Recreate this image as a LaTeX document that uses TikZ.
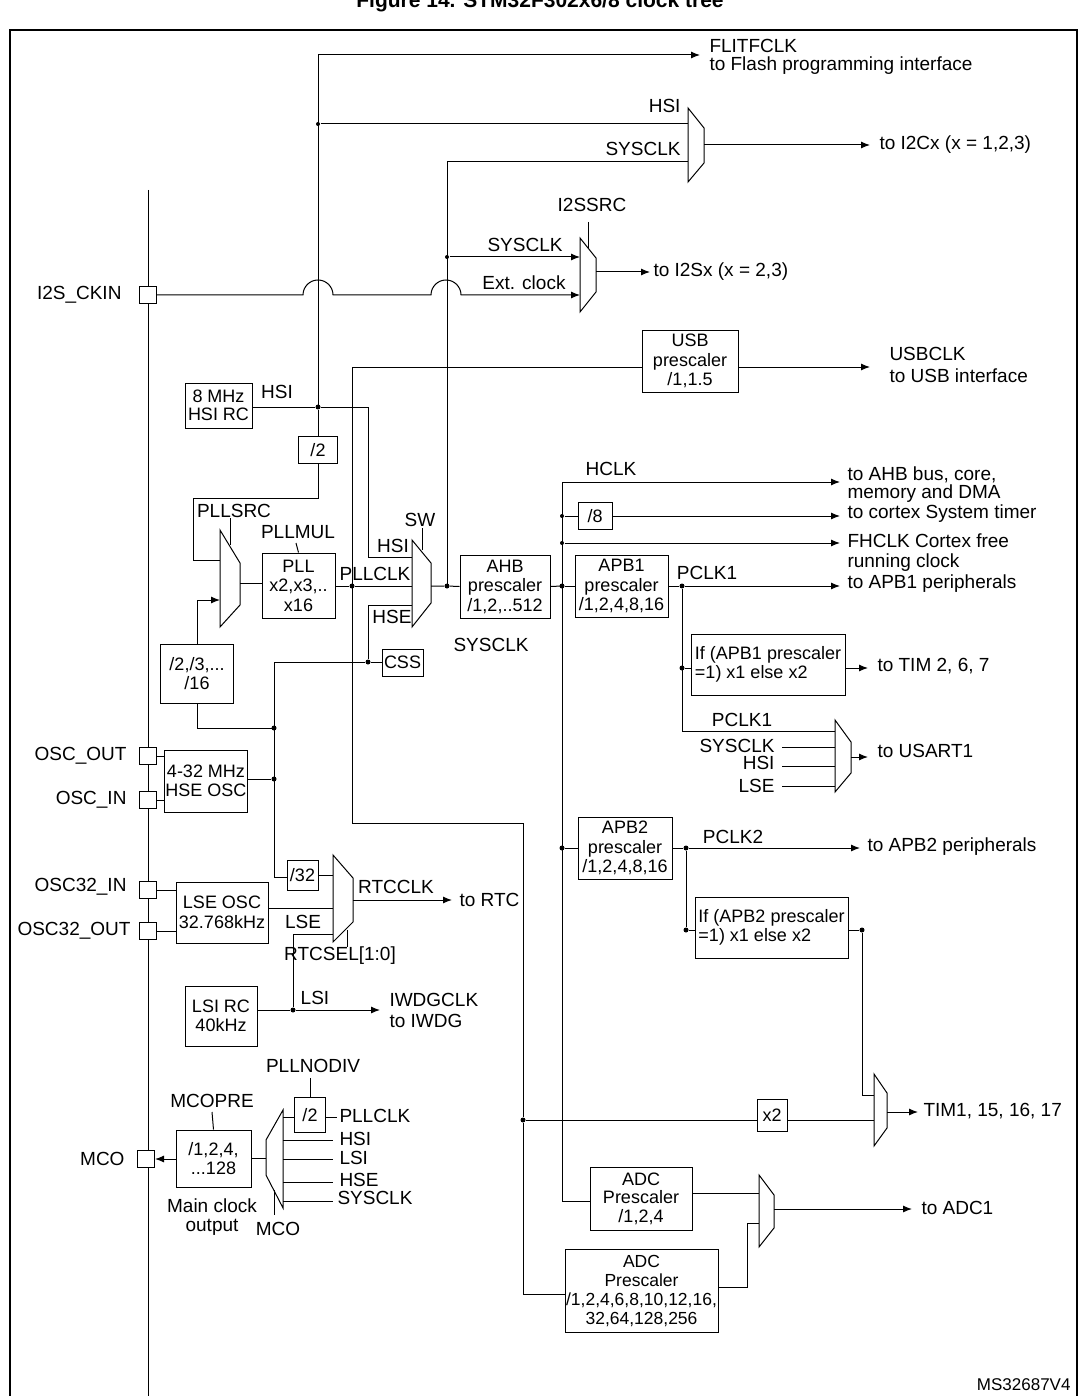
\documentclass[tikz,border=0pt]{standalone}
\usepackage{fontspec}
\setmainfont{Liberation Sans}
\usetikzlibrary{arrows.meta}
\begin{document}
\begin{tikzpicture}[x=1pt,y=-1pt,line width=1pt,
  box/.style={draw,align=center,inner sep=1pt,font=\fontsize{18}{19.5}\selectfont},
  pin/.style={draw,fill=white,minimum size=17pt,inner sep=0pt},
  lbl/.style={inner sep=1pt,font=\fontsize{19}{19.5}\selectfont,align=left},
  arr/.style={-{Latex[length=9pt,width=7pt]}},
  dot/.style={circle,fill,inner sep=0pt,minimum size=5pt}]
\useasboundingbox (0,0) rectangle (1079,1396);
\node[font=\bfseries\fontsize{21}{21}\selectfont,anchor=base] (title) at (540,8) {Figure 14. STM32F302x6/8 clock tree};
\draw[line width=2.2pt] (10,1396) -- (10,30) -- (1077,30) -- (1077,1396);
% pin bus
\draw (148,190) -- (148,1396);
\node[pin] (pi2s) at (148,295) {};
\node[pin] (poscout) at (148,756) {};
\node[pin] (poscin) at (148,800) {};
\node[pin] (p32in) at (148,890) {};
\node[pin] (p32out) at (148,931) {};
\node[pin] (pmco) at (146,1159) {};
\node[lbl,anchor=east] at (123,295) {I2S\_CKIN};
\node[lbl,anchor=east] at (128,756) {OSC\_OUT};
\node[lbl,anchor=east] at (128,800) {OSC\_IN};
\node[lbl,anchor=east] at (128,887) {OSC32\_IN};
\node[lbl,anchor=east] at (132,931) {OSC32\_OUT};
\node[lbl,anchor=east] at (126,1159) {MCO};
% top: FLITFCLK, HSI, I2C
\coordinate (ftop) at (318,55);
\coordinate (fend) at (700,55);
\draw[arr] (318,407) -- (ftop) -- (fend);
\node[lbl,anchor=west] at (708,46) {FLITFCLK};
\node[lbl,anchor=west] at (708,66) {to Flash programming interface};
\node[dot,minimum size=4pt] (dhsi1) at (318,124) {};
\draw (dhsi1) -- (688,124);
\node[lbl,anchor=east] at (682,106) {HSI};
\draw (688,108) -- (704,128) -- (704,163) -- (688,182) -- cycle;
\draw[arr] (704,145) -- (870,145);
\node[lbl,anchor=west] at (878,145) {to I2Cx (x = 1,2,3)};
\draw (447,586) -- (447,162) -- (688,162);
\node[lbl,anchor=east] at (682,149) {SYSCLK};
% I2S
\draw (580,238) -- (596,258) -- (596,292) -- (580,312) -- cycle;
\draw (588,222) -- (588,248);
\node[lbl] at (592,205) {I2SSRC};
\node[dot,minimum size=4pt] (di2s) at (447,257) {};
\draw[arr] (di2s) -- (580,257);
\node[lbl] at (525,245) {SYSCLK};
\draw[arr] (pi2s.east) -- (303,295) arc(180:360:15) -- (431,295) arc(180:360:15) -- (580,295);
\node[lbl] at (524,283) {Ext. clock};
\draw[arr] (596,272) -- (650,272);
\node[lbl,anchor=west] at (652,272) {to I2Sx (x = 2,3)};
% USB
\node[box,minimum width=96pt,minimum height=62pt] (usb) at (690,361) {USB\\prescaler\\/1,1.5};
\draw (352,823) -- (352,367) -- (usb.west|-0,367);
\draw[arr] (usb.east|-0,367) -- (870,367);
\node[lbl,anchor=west] at (888,354) {USBCLK};
\node[lbl,anchor=west] at (888,376) {to USB interface};
% HSI RC
\node[box,minimum width=67pt,minimum height=45pt,font=\fontsize{18}{18}\selectfont] (hsirc) at (218.5,405.5) {8 MHz\\HSI RC};
\node[lbl] at (277,392) {HSI};
\node[dot] (dhsi) at (318,407) {};
\draw (hsirc.east|-0,407) -- (dhsi) -- (368,407) -- (368,557) -- (412,557);
\node[lbl] at (393,546) {HSI};
\node[box,minimum width=39pt,minimum height=27pt] (d2) at (318,450) {/2};
\draw (dhsi) -- (d2.north);
\draw (d2.south) -- (318,498) -- (193,498) -- (193,560) -- (220,560);
% PLLSRC mux
\draw (220,530) -- (240,563) -- (240,605) -- (220,627) -- cycle;
\draw (230,518) -- (230,545);
\node[lbl] at (234,511) {PLLSRC};
\node[box,minimum width=73pt,minimum height=59pt] (div16) at (197,673.5) {/2,/3,...\\/16};
\draw[arr] (div16.north) -- (197,600) -- (220,600);
\draw (div16.south) -- (197,728) -- (274,728);
% PLL
\node[box,minimum width=73pt,minimum height=65pt] (pll) at (298.5,585.5) {PLL\\x2,x3,..\\x16};
\draw (240,583) -- (pll.west|-0,583);
\draw (296,543) -- (pll.north);
\node[lbl] at (298,532) {PLLMUL};
\node[dot] (dpll) at (352,586) {};
\draw (pll.east|-0,586) -- (dpll) -- (412,586);
\node[lbl] at (375,574) {PLLCLK};
% SW mux
\draw (412,540) -- (431,563) -- (431,603) -- (412,627) -- cycle;
\draw (422,528) -- (422,550);
\node[lbl] at (420,520) {SW};
\node[lbl] at (392,617) {HSE};
\node[box,minimum width=41pt,minimum height=27pt] (css) at (402.5,662.5) {CSS};
\node[dot] (dcss) at (368,662) {};
\draw (274,877) -- (274,662) -- (dcss) -- (css.west|-0,662);
\draw (dcss) -- (368,605) -- (412,605);
\node[dot] (dsys) at (447,586) {};
\node[box,minimum width=90pt,minimum height=63pt] (ahb) at (505,586.5) {AHB\\prescaler\\/1,2,..512};
\draw (431,586) -- (dsys) -- (ahb.west);
\node[lbl] at (491,645) {SYSCLK};
% HSE OSC
\node[box,minimum width=60pt,minimum height=62pt] (hse) at (206,781) {4-32 MHz\\HSE OSC};
\draw (poscout.east) -- (hse.west|-0,756);
\draw (poscin.east) -- (hse.west|-0,800);
\node[dot] (dhse) at (274,779) {};
\node[dot] (dhse2) at (274,728) {};
\draw (hse.east|-0,779) -- (dhse);
% RTC
\node[box,minimum width=31pt,minimum height=30pt] (d32) at (302.5,875) {/32};
\draw (274,877) -- (d32.west|-0,877);
\draw (d32.east|-0,875) -- (333,875);
\draw (333,855) -- (353,878) -- (353,922) -- (333,942) -- cycle;
\draw[arr] (353,900) -- (452,900);
\node[lbl] at (396,887) {RTCCLK};
\node[lbl,anchor=west] at (458,900) {to RTC};
\node[box,minimum width=92pt,minimum height=61pt] (lse) at (222,912.5) {LSE OSC\\32.768kHz};
\draw (p32in.east) -- (lse.west|-0,890);
\draw (p32out.east) -- (lse.west|-0,931);
\draw (lse.east|-0,908) -- (333,908);
\node[lbl] at (303,922) {LSE};
\draw (347,930) -- (347,947);
\node[lbl] at (340,956) {RTCSEL[1:0]};
% LSI
\node[box,minimum width=72pt,minimum height=60pt] (lsi) at (221,1016) {LSI RC\\40kHz};
\node[dot] (dlsi) at (293,1010) {};
\draw[arr] (lsi.east|-0,1010) -- (dlsi) -- (380,1010);
\draw (dlsi) -- (293,934) -- (333,934);
\node[lbl] at (315,998) {LSI};
\node[lbl,anchor=west] at (388,1000) {IWDGCLK};
\node[lbl,anchor=west] at (388,1021) {to IWDG};
% MCO
\node[box,minimum width=75pt,minimum height=57pt] (mcopre) at (213.5,1158.5) {/1,2,4,\\...128};
\draw[arr] (mcopre.west|-0,1159) -- (pmco.east);
\draw (212,1112) -- (mcopre.north);
\node[lbl] at (212,1101) {MCOPRE};
\node[lbl,align=center] at (212,1217) {Main clock\\output};
\draw (283,1110) -- (266,1140) -- (266,1175) -- (283,1208) -- cycle;
\draw (266,1158) -- (mcopre.east|-0,1158);
\draw (274,1190) -- (274,1215);
\node[lbl] at (278,1229) {MCO};
\node[box,minimum width=31pt,minimum height=35pt] (dd2) at (310,1115) {/2};
\draw (283,1117) -- (dd2.west|-0,1117);
\draw (dd2.east|-0,1117) -- (337,1117);
\draw (310,1078) -- (dd2.north);
\node[lbl] at (313,1066) {PLLNODIV};
\node[lbl,anchor=west] at (338,1116) {PLLCLK};
\draw (283,1140) -- (333,1140); \node[lbl,anchor=west] at (338,1139) {HSI};
\draw (283,1159) -- (333,1159); \node[lbl,anchor=west] at (338,1158) {LSI};
\draw (283,1182) -- (333,1182); \node[lbl,anchor=west] at (338,1180) {HSE};
\draw (283,1201) -- (333,1201); \node[lbl,anchor=west] at (336,1198) {SYSCLK};
% AHB outputs
\draw (ahb.east) -- (562,586);
\draw (562,1201) -- (562,482);
\draw[arr] (562,482) -- (840,482);
\node[lbl] at (611,469) {HCLK};
\node[lbl,anchor=west] at (846,475) {to AHB bus, core,};
\node[lbl,anchor=west] at (846,494) {memory and DMA};
\node[dot,minimum size=4pt] (d8) at (562,516) {};
\node[box,minimum width=34pt,minimum height=27pt] (div8) at (595,516) {/8};
\draw (d8) -- (div8.west);
\draw[arr] (div8.east) -- (840,516);
\node[lbl,anchor=west] at (846,514) {to cortex System timer};
\node[dot,minimum size=4pt] (dfh) at (562,543) {};
\draw[arr] (dfh) -- (840,543);
\node[lbl,anchor=west] at (846,541) {FHCLK Cortex free};
\node[lbl,anchor=west] at (846,563) {running clock};
\node[dot] (dapb1) at (562,586) {};
\node[box,minimum width=93pt,minimum height=62pt] (apb1) at (621.5,586) {APB1\\prescaler\\/1,2,4,8,16};
\draw (dapb1) -- (apb1.west);
\node[dot] (dp1) at (682,586) {};
\draw[arr] (apb1.east) -- (dp1) -- (840,586);
\node[lbl] at (707,573) {PCLK1};
\node[lbl,anchor=west] at (846,584) {to APB1 peripherals};
\draw (dp1) -- (682,731) -- (835,731);
\node[box,minimum width=154pt,minimum height=61pt,align=left,inner sep=3pt] (tim1) at (768,664.5) {If (APB1 prescaler\\=1) x1 else x2};
\node[dot] (dt1) at (682,668) {};
\draw (dt1) -- (tim1.west|-0,668);
\draw[arr] (tim1.east|-0,668) -- (868,668);
\node[lbl,anchor=west] at (876,666) {to TIM 2, 6, 7};
\node[lbl] at (742,720) {PCLK1};
\draw (835,720) -- (851,742) -- (851,773) -- (835,792) -- cycle;
\draw[arr] (851,757) -- (868,757);
\node[lbl,anchor=west] at (876,751) {to USART1};
\draw (782,747) -- (835,747); \node[lbl,anchor=east] at (776,746) {SYSCLK};
\draw (782,766) -- (835,766); \node[lbl,anchor=east] at (776,763) {HSI};
\draw (782,786) -- (835,786); \node[lbl,anchor=east] at (776,786) {LSE};
% APB2
\node[dot] (dapb2) at (562,848) {};
\node[box,minimum width=94pt,minimum height=62pt] (apb2) at (625,848) {APB2\\prescaler\\/1,2,4,8,16};
\draw (dapb2) -- (apb2.west);
\node[dot] (dp2) at (686,848) {};
\draw[arr] (apb2.east) -- (dp2) -- (860,848);
\node[lbl] at (733,837) {PCLK2};
\node[lbl,anchor=west] at (866,847) {to APB2 peripherals};
\node[box,minimum width=153pt,minimum height=61pt,align=left,inner sep=3pt] (tim2) at (771.5,927.5) {If (APB2 prescaler\\=1) x1 else x2};
\node[dot] (dt2) at (686,930) {};
\draw (dp2) -- (dt2) -- (tim2.west|-0,930);
\node[dot] (dt2o) at (862,930) {};
\draw (tim2.east|-0,930) -- (dt2o) -- (862,1095) -- (874,1095);
\draw (874,1074) -- (887,1093) -- (887,1128) -- (874,1146) -- cycle;
\draw[arr] (887,1112) -- (918,1112);
\node[lbl,anchor=west] at (922,1111) {TIM1, 15, 16, 17};
\node[dot] (dx2) at (523,1120) {};
\node[box,minimum width=30pt,minimum height=32pt] (x2) at (772,1115) {x2};
\draw (352,823) -- (523,823) -- (dx2) -- (523,1294);
\draw (dx2) -- (x2.west|-0,1120);
\draw (x2.east|-0,1120) -- (874,1120);
% ADC
\node[box,minimum width=102pt,minimum height=63pt,font=\fontsize{18}{18.5}\selectfont] (adc1) at (641,1198.5) {ADC\\Prescaler\\/1,2,4};
\draw (562,1201) -- (adc1.west|-0,1201);
\draw (adc1.east|-0,1193) -- (759,1193);
\draw (759,1175) -- (774,1195) -- (774,1228) -- (759,1247) -- cycle;
\draw[arr] (774,1209) -- (912,1209);
\node[lbl,anchor=west] at (920,1208) {to ADC1};
\node[box,minimum width=153pt,minimum height=83pt,font=\fontsize{17.5}{19}\selectfont] (adc2) at (641.5,1290.5) {ADC\\Prescaler\\/1,2,4,6,8,10,12,16,\\32,64,128,256};
\draw (523,1294) -- (adc2.west|-0,1294);
\draw (adc2.east|-0,1287) -- (747,1287) -- (747,1223) -- (759,1223);
\node[lbl,anchor=east,font=\fontsize{17}{17}\selectfont] (ms) at (1072,1385) {MS32687V4};
\end{tikzpicture}
\end{document}
